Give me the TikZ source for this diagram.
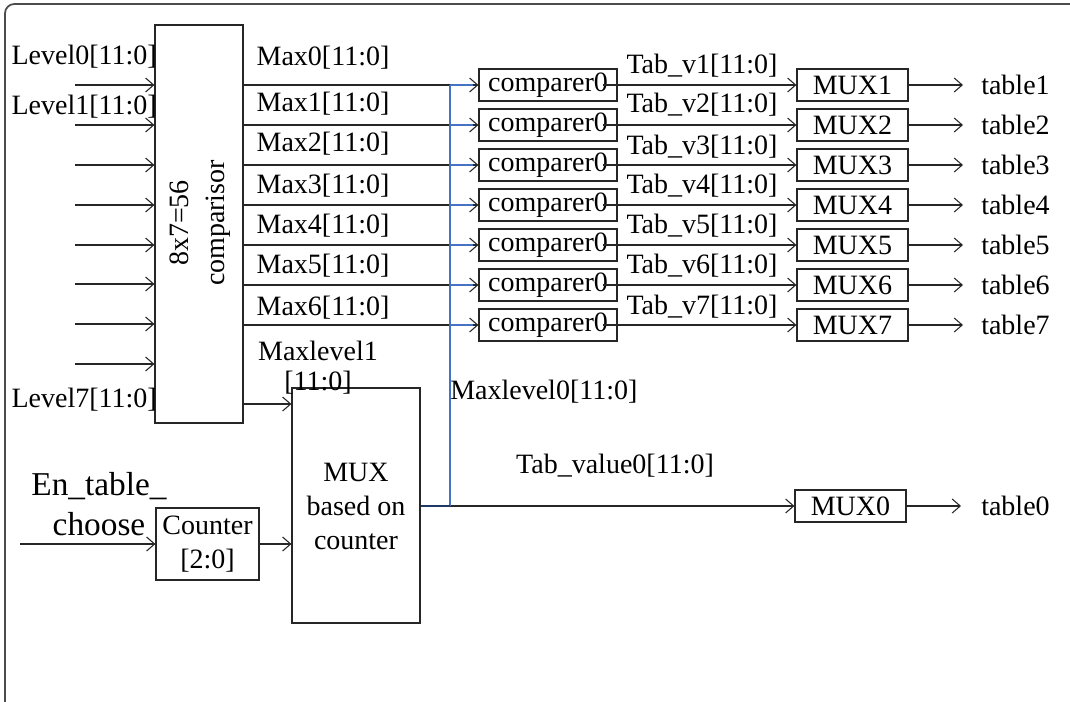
\documentclass[tikz,border=0pt]{standalone}
\usepackage{fontspec}
\setmainfont{Liberation Serif}
\usetikzlibrary{arrows.meta}
\definecolor{busblue}{HTML}{4472C4}
\definecolor{busnavy}{HTML}{1F3864}
\tikzset{
  lbl/.style={font=\fontsize{21}{25}\selectfont, inner sep=0pt},
  blk/.style={draw=black!85, line width=0.9pt, inner sep=0pt, font=\fontsize{21}{25}\selectfont, align=center},
  cmpbox/.style={blk, minimum width=103.5pt, minimum height=24pt},
  muxbox/.style={blk, minimum width=83.25pt, minimum height=24pt},
  wire/.style={draw=black!85, line width=0.8pt},
  arr/.style={wire, -{Straight Barb[length=6pt,width=10.5pt]}},
  bus/.style={draw=busblue, line width=1.1pt},
}
\begin{document}
\begin{tikzpicture}[x=0.75pt,y=-0.75pt]
\useasboundingbox (0,0) rectangle (1070,702);
% outer frame (partially visible)
\draw[draw=black!70, line width=1.3pt, rounded corners=7pt] (5,702) -- (5,4) -- (1070,4);

% comparisor block
\node[blk, minimum width=66pt, minimum height=298.5pt] (comp) at (199,224) {};
\node[lbl, rotate=90, align=center, font=\fontsize{21}{27}\selectfont] (comptext) at (200,223) {8x7=56\\comparisor};

% inputs
\foreach \i/\y in {0/85,1/125,2/165,3/205,4/245,5/284,6/324,7/364}{
  \coordinate (in\i) at (75,\y);
  \draw[arr] (in\i) -- (in\i -| comp.west);
}
\node[lbl, anchor=east] (l0) at (157,57) {Level0[11:0]};
\node[lbl, anchor=east] (l1) at (157,107) {Level1[11:0]};
\node[lbl, anchor=east] (l7) at (157,400) {Level7[11:0]};

% comparers and MUXes
\foreach \i/\y/\my/\ty in {1/85/58/66,2/125/104/105,3/165/144/147,4/205/186/186,5/245/226/226,6/285/266/266,7/325/308/307}{
  \node[cmpbox] (cmp\i) at (548,\y) {comparer0};
  \node[muxbox] (mux\i) at (852.5,\y) {MUX\i};
  \coordinate (t\i) at (963,\y);
  \draw[arr] (comp.east |- cmp\i.west) -- (cmp\i.west);
  \draw[arr] ([xshift=-11pt]cmp\i.east) -- (mux\i.west);
  \draw[arr] (mux\i.east) -- (t\i);
  \node[lbl, anchor=west] (tb\i) at (981,\y) {table\i};
  \node[lbl] (max\i) at (323,\my) {Max\the\numexpr\i-1\relax[11:0]};
  \node[lbl] (tv\i) at (702,\ty) {Tab\_v\i[11:0]};
}

% big MUX
\node[blk, minimum width=96pt, minimum height=176.25pt] (bigmux) at (356,505.5) {};
\node[lbl, align=center, font=\fontsize{21}{25.5}\selectfont] (bigmuxtext) at (356,506) {MUX\\based on\\counter};
\coordinate (mlv) at (243,404);
\draw[arr] (mlv) -- (mlv -| bigmux.west);
\node[lbl, align=center, font=\fontsize{21}{22.5}\selectfont] (maxl1) at (318,368) {Maxlevel1\\\mbox{}[11:0]};

% counter
\node[blk, minimum width=77.25pt, minimum height=54pt, font=\fontsize{21}{26}\selectfont] (counter) at (207.5,544) {Counter\\\mbox{}[2:0]};
\coordinate (en) at (20,544);
\draw[arr] (en) -- (counter.west);
\draw[arr] (counter.east) -- (counter.east -| bigmux.west);
\node[lbl, align=center, font=\fontsize{25}{30}\selectfont] (entab) at (99,504) {En\_table\_\\choose};

% bus
\coordinate (bustop) at (450,85);
\coordinate (busj) at (450,506);
\node[muxbox] (mux0) at (850.5,506) {MUX0};
\coordinate (t0) at (961,506);
\draw[arr] (busj) -- (mux0.west);
\draw[arr] (mux0.east) -- (t0);
\node[lbl, anchor=west] (tb0) at (981,506) {table0};
\foreach \i in {1,...,7}{
  \draw[bus] (bustop |- cmp\i.west) -- ([xshift=-4pt]cmp\i.west);
}
\draw[bus] (bustop) -- (busj);
\draw[draw=busnavy, line width=1.1pt] (bigmux.east |- busj) -- (busj);
\node[lbl, anchor=west] (maxl0) at (450,392) {Maxlevel0[11:0]};
\node[lbl] (tabv0) at (615,466) {Tab\_value0[11:0]};
\end{tikzpicture}
\end{document}
